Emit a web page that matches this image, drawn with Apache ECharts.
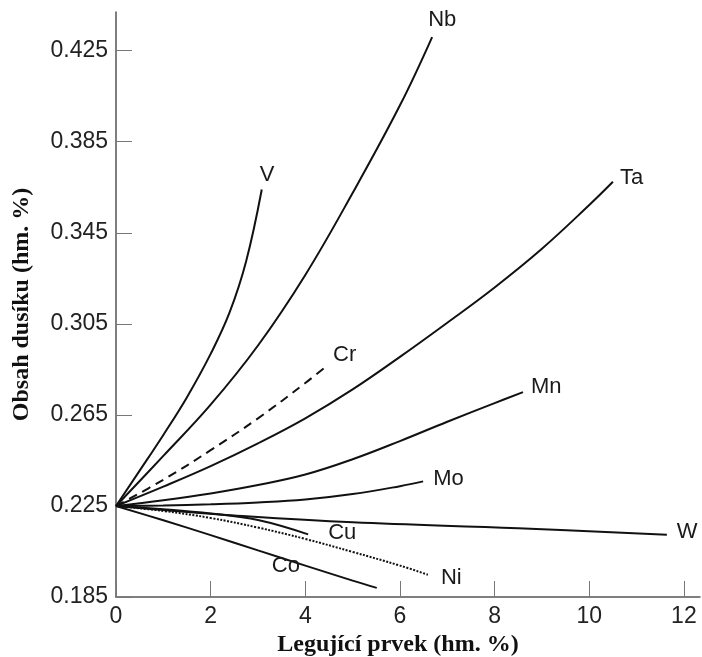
<!DOCTYPE html>
<html>
<head>
<meta charset="utf-8">
<script src="https://cdn.jsdelivr.net/npm/echarts@6/dist/echarts.min.js"></script>
<style>html,body{margin:0;padding:0;background:#fff}#c{width:702px;height:657px}</style>
</head>
<body>
<div id="c"></div>
<script>
// Tick labels
const xTicks = [0, 2, 4, 6, 8, 10, 12];
const yTicks = [0.185, 0.225, 0.265, 0.305, 0.345, 0.385, 0.425];

// Series: [x (hm. %), N (hm. %)]
const V  = [[0,0.225],[0.5,0.2405],[1,0.2562],[1.5,0.2728],[2,0.2918],[2.4,0.3100],[2.75,0.3325],[3.08,0.364]];
const Nb = [[0,0.225],[1,0.247],[2,0.2695],[3,0.2955],[4,0.3265],[5,0.3625],[6,0.401],[6.68,0.431]];
const Ta = [[0,0.225],[1,0.2335],[2,0.2425],[3,0.2525],[4,0.2635],[5,0.2762],[6,0.2905],[7,0.3055],[8,0.321],[9,0.338],[10,0.3572],[10.5,0.3674]];
const Cr = [[0,0.225],[1,0.2365],[2,0.2495],[3,0.2635],[4,0.279],[4.48,0.287]];
const Mn = [[0,0.225],[1,0.2275],[2,0.2305],[3,0.2342],[4,0.2388],[5,0.2455],[6,0.2535],[7,0.262],[8,0.2702],[8.6,0.2750]];
const Mo = [[0,0.225],[1,0.2252],[2,0.2257],[3,0.2265],[4,0.2278],[5,0.2302],[6,0.2337],[6.49,0.2358]];
const W  = [[0,0.225],[1,0.2232],[2.5,0.2208],[5,0.2178],[8.5,0.2152],[11.64,0.2123]];
const Cu = [[0,0.225],[1,0.2236],[2,0.2217],[3,0.2188],[4.06,0.2125]];
const Ni = [[0,0.225],[1,0.2228],[2,0.2197],[3,0.2155],[4,0.2105],[5,0.2048],[6,0.1988],[6.59,0.1948]];
const Co = [[0,0.225],[1,0.2187],[2,0.2122],[3,0.2055],[4,0.1988],[5,0.1922],[5.51,0.189]];

const names = ['V','Nb','Ta','Cr','Mn','Mo','W','Cu','Ni','Co'];
const datas = [V,Nb,Ta,Cr,Mn,Mo,W,Cu,Ni,Co];
const lineTypes = {Cr:[9,6], Ni:[2,1.5]};
const labelOffsets = {V:[-10,-15],Nb:[-12,-17],Ta:[-1,-4],Cr:[-3,-10],Mn:[0,-5],Mo:[2,-2],W:[2,-3],Cu:[12,-1],Ni:[5,3],Co:[-113,-22]};

const chart = echarts.init(document.getElementById('c'));
const series = names.map((n,i)=>({
  name:n, type:'line', data:datas[i], smooth:0.4,
  showSymbol:false, silent:true,
  lineStyle:{color:'#111', width:2, type: lineTypes[n] || 'solid'},
  endLabel:{show:true, formatter:n, color:'#1a1a1a', fontSize:22,
    fontFamily:'Liberation Sans, Arial, sans-serif', offset:labelOffsets[n]}
}));

chart.setOption({
  animation:false,
  grid:{left:116, right:2, top:12, bottom:60, containLabel:false, outerBoundsMode:'none'},
  xAxis:{type:'value', min:0, max:12.34,
    name:'Legující prvek (hm. %)', nameLocation:'middle', nameGap:36,
    nameTextStyle:{fontFamily:'Liberation Serif, Times New Roman, serif', fontWeight:'bold', fontSize:24, color:'#111', padding:[0,20,0,0]},
    axisLine:{lineStyle:{color:'#555', width:1.5}},
    axisTick:{inside:true, length:16, customValues:xTicks, lineStyle:{color:'#777'}},
    axisLabel:{customValues:xTicks, fontSize:23, color:'#222', margin:8, fontFamily:'Liberation Sans, Arial, sans-serif'},
    splitLine:{show:false}},
  yAxis:{type:'value', min:0.185, max:0.442,
    name:'Obsah dusíku (hm. %)', nameLocation:'middle', nameGap:82,
    nameTextStyle:{fontFamily:'Liberation Serif, Times New Roman, serif', fontWeight:'bold', fontSize:24, color:'#111'},
    axisLine:{show:true, lineStyle:{color:'#555', width:1.5}},
    axisTick:{show:true, inside:true, length:16, customValues:yTicks, lineStyle:{color:'#777'}},
    axisLabel:{customValues:yTicks, fontSize:23, color:'#222', margin:8, fontFamily:'Liberation Sans, Arial, sans-serif',
      formatter:v=>v.toFixed(3)},
    splitLine:{show:false}},
  series:series
});
</script>
</body>
</html>
